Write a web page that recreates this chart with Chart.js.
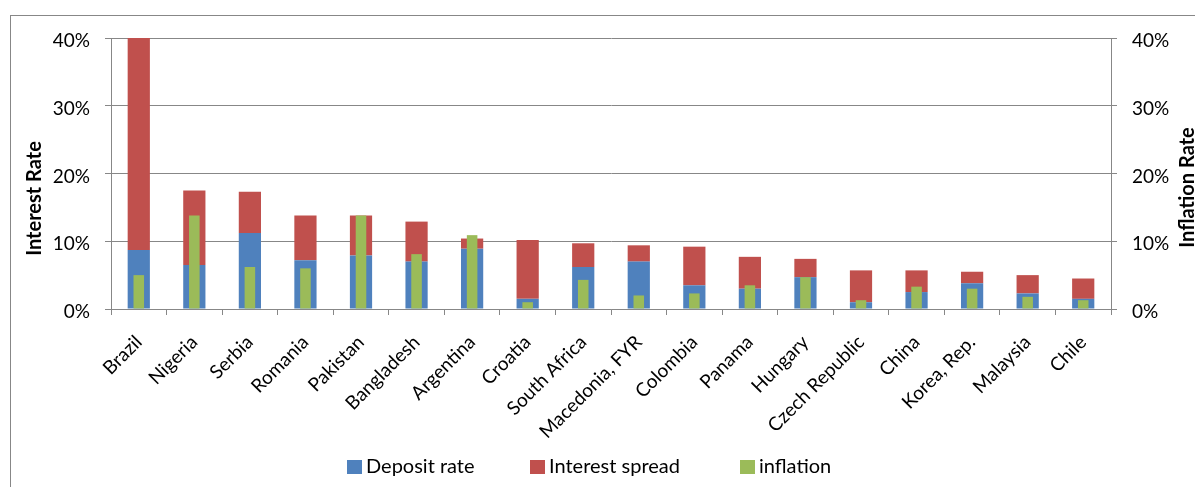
<!DOCTYPE html>
<html>
<head>
<meta charset="utf-8">
<script src="https://cdn.jsdelivr.net/npm/chart.js@4/dist/chart.umd.min.js"></script>
<style>
  html, body { margin: 0; padding: 0; background: #fff; overflow: hidden; }
  #wrap { position: relative; width: 1195px; height: 487px; }
  .frame { position: absolute; left: 10px; top: 15px; width: 1300px; height: 600px; border: 1px solid #878787; }
  canvas { position: absolute; left: 0; top: 0; }
  #legend { position: absolute; left: 347px; top: 452px; font: 20px Lato, sans-serif; color: #000; white-space: nowrap; line-height: 26px; }
  #legend .item { display: inline-block; }
  #legend .box { display: inline-block; width: 15px; height: 14px; margin-right: 4px; vertical-align: -1px; }
</style>
</head>
<body>
<div id="wrap">
  <div class="frame"></div>
  <canvas id="mychart" width="1195" height="487"></canvas>
  <div id="legend"></div>
</div>
<script>
// countries sorted by lending rate (deposit + spread), values in percent
const countries = ['Brazil', 'Nigeria', 'Serbia', 'Romania', 'Pakistan', 'Bangladesh', 'Argentina', 'Croatia',
    'South Africa', 'Macedonia, FYR', 'Colombia', 'Panama', 'Hungary', 'Czech Republic', 'China', 'Korea, Rep.',
    'Malaysia', 'Chile'];
const depositRate = [8.7, 6.5, 11.2, 7.2, 7.9, 7.0, 8.9, 1.5, 6.2, 7.0, 3.5, 3.0, 4.7, 1.0, 2.5, 3.8, 2.3, 1.5];
const interestSpread = [31.3, 11.0, 6.1, 6.6, 5.9, 5.9, 1.5, 8.7, 3.5, 2.4, 5.7, 4.7, 2.7, 4.7, 3.2, 1.7, 2.7, 3.0];
const inflation = [5.0, 13.8, 6.2, 6.0, 13.8, 8.1, 10.9, 1.0, 4.3, 2.0, 2.3, 3.5, 4.7, 1.3, 3.3, 3.0, 1.8, 1.3];
const yTicks = [0, 10, 20, 30, 40];

const colors = { deposit: '#4F81BD', spread: '#C0504D', inflation: '#9BBB59' };
const gridColor = '#878787';
const fontFamily = 'Lato, sans-serif';

// axis titles sit a bit below the middle of the axis, so draw them by hand
const axisTitles = {
    id: 'axisTitles',
    afterDraw(chart, args, opts) {
        const ctx = chart.ctx;
        opts.titles.forEach(function (t) {
            const scale = chart.scales[t.axis];
            const y = (scale.top + scale.bottom) / 2 + t.shift;
            const x = t.axis === 'y' ? scale.left + t.inset : scale.right - t.inset;
            ctx.save();
            ctx.translate(x, y);
            ctx.rotate(-Math.PI / 2);
            ctx.font = 'bold 20px ' + fontFamily;
            ctx.fillStyle = '#000';
            ctx.textAlign = 'center';
            ctx.textBaseline = 'middle';
            ctx.fillText(t.text, 0, 0);
            ctx.restore();
        });
    },
};

document.addEventListener('DOMContentLoaded', function () {
    const ctx = document.getElementById('mychart');

    const pct = v => v + '%';

    const myChart = new Chart(ctx, {
        type: 'bar',
        data: {
            labels: countries,
            datasets: [{
                label: 'Deposit rate',
                data: depositRate,
                backgroundColor: colors.deposit,
                yAxisID: 'y',
                grouped: false,
                order: 1,
                barPercentage: 0.4,
                categoryPercentage: 1,
            }, {
                label: 'Interest spread',
                data: interestSpread,
                backgroundColor: colors.spread,
                yAxisID: 'y',
                grouped: false,
                order: 1,
                barPercentage: 0.4,
                categoryPercentage: 1,
            }, {
                label: 'inflation',
                data: inflation,
                backgroundColor: colors.inflation,
                yAxisID: 'y2',
                grouped: false,
                order: 0,
                barPercentage: 0.19,
                categoryPercentage: 1,
            }],
        },
        plugins: [axisTitles],
        options: {
            responsive: false,
            animation: false,
            layout: { padding: { top: 38, left: 0, right: 0, bottom: 0 } },
            plugins: {
                legend: { display: false },
                tooltip: { enabled: false },
                axisTitles: {
                    titles: [
                        { axis: 'y', text: 'Interest Rate', inset: 35, shift: 25 },
                        { axis: 'y2', text: 'Inflation Rate', inset: 7, shift: 14 },
                    ],
                },
            },
            scales: {
                x: {
                    stacked: true,
                    grid: { display: true, offset: true, drawOnChartArea: false, color: gridColor, tickLength: 6 },
                    border: { color: gridColor },
                    ticks: {
                        autoSkip: false, maxRotation: 45, minRotation: 45,
                        color: '#000', padding: 16, font: { family: fontFamily, size: 19 },
                    },
                    afterFit: s => { s.height = 178; },
                },
                y: {
                    position: 'left',
                    stacked: true,
                    min: 0, max: 40,
                    afterBuildTicks: s => { s.ticks = yTicks.map(v => ({ value: v })); },
                    grid: { color: gridColor, tickLength: 6 },
                    border: { color: gridColor },
                    ticks: { callback: pct, color: '#000', padding: 15, labelOffset: 3, font: { family: fontFamily, size: 19 } },
                    afterFit: s => { s.width = 111; },
                },
                y2: {
                    position: 'right',
                    min: 0, max: 40,
                    afterBuildTicks: s => { s.ticks = yTicks.map(v => ({ value: v })); },
                    grid: { drawOnChartArea: false, color: gridColor, tickLength: 6 },
                    border: { color: gridColor },
                    ticks: { callback: pct, color: '#000', padding: 15, labelOffset: 3, font: { family: fontFamily, size: 19 } },
                    afterFit: s => { s.width = 84; },
                },
            },
        },
    });

    // legend built from the datasets
    const legend = document.getElementById('legend');
    const widths = [183, 210, 0];
    myChart.data.datasets.forEach(function (ds, i) {
        const item = document.createElement('span');
        item.className = 'item';
        if (widths[i]) item.style.width = widths[i] + 'px';
        const box = document.createElement('span');
        box.className = 'box';
        box.style.background = ds.backgroundColor;
        item.appendChild(box);
        item.appendChild(document.createTextNode(ds.label));
        legend.appendChild(item);
    });
});
</script>
</body>
</html>
